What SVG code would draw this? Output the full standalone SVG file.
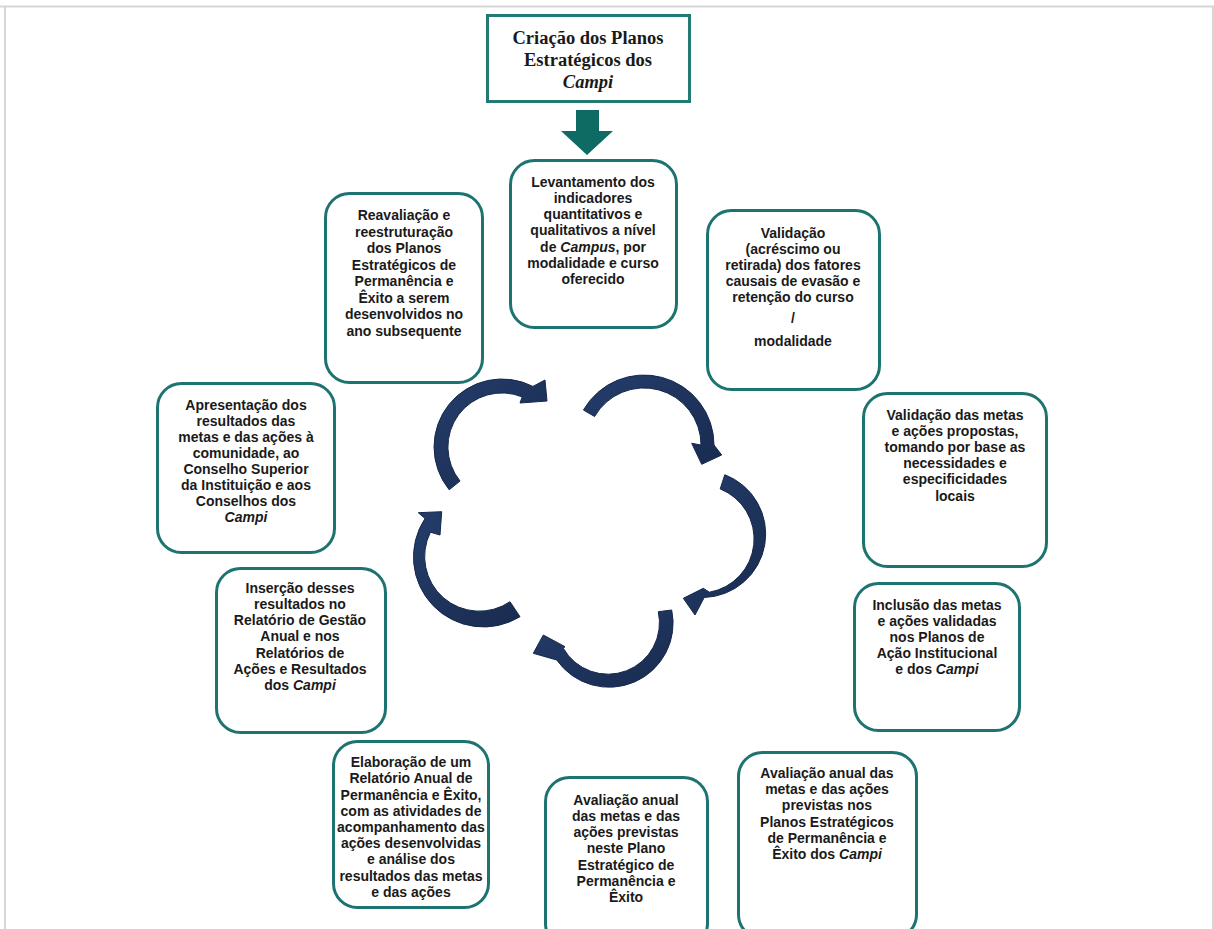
<svg xmlns="http://www.w3.org/2000/svg" width="1214" height="929" viewBox="0 0 1214 929">
<defs>
<style>
.box{fill:#fff;stroke:#1d7370;stroke-width:3}
.t{font-family:"Liberation Sans",Arial,sans-serif;font-weight:bold;font-size:14px;fill:#1a1a1a;text-anchor:middle}
.ts{font-family:"Liberation Serif","Times New Roman",serif;font-weight:bold;font-size:18.5px;fill:#1a1a1a;text-anchor:middle}
.i{font-style:italic}
.arr{fill:url(#ag);stroke:#16284a;stroke-width:1}
.frame{stroke:#d6d6d6;stroke-width:2;fill:none}
</style>
<linearGradient id="ag" x1="0" y1="0" x2="1" y2="1">
<stop offset="0" stop-color="#243d6b"/>
<stop offset="1" stop-color="#192b4f"/>
</linearGradient>
</defs>
<rect x="0" y="0" width="1214" height="929" fill="#fff"/>
<path class="frame" d="M0,6.5 H1213 V929 M5,6.5 V929"/>

<g id="start">
<rect x="487.5" y="15.5" width="202" height="86" fill="#fff" stroke="#237a73" stroke-width="3"/>
<text class="ts" x="588" y="44">Criação dos Planos</text>
<text class="ts" x="588" y="66">Estratégicos dos</text>
<text class="ts i" x="588" y="88">Campi</text>
</g>

<g id="connectors">
<polygon points="576,110 599,110 599,131 613,131 587,155 561,131 576,131" fill="#0e6b63"/>
<path class="arr" d="M449.2,489.8 A68,68 0 0 1 532.9,386.4 L545,380 L547,401 L520,403 L522.2,396.9 A54,54 0 0 0 460,481 Z"/>
<path class="arr" d="M583.4,410 A70,70 0 0 1 714,445 L721.7,455 L701.7,464.3 L691.7,443.3 L701,445 A57,57 0 0 0 594.6,416.5 Z"/>
<path class="arr" d="M724.8,474.7 A63.5,63.5 0 0 1 704.2,597.5 L695,615 L683.3,598.3 L703.3,588.3 L709.4,592.2 A54,54 0 0 0 720.2,488.9 Z"/>
<path class="arr" d="M671.7,610 A64,64 0 0 1 556.7,660 L533.3,653.3 L543.3,635 L565,646.7 L563.3,648.3 A51.5,51.5 0 0 0 658.3,611.7 Z"/>
<path class="arr" d="M520,616.7 A70,70 0 0 1 425,518.5 L418.3,512.7 L441.7,511.7 L440,535 L430.4,532.2 A54.6,54.6 0 0 0 510,601.7 Z"/>
</g>

<g id="levantamento">
<rect class="box" x="510.5" y="160.5" width="166" height="167" rx="24"/>
<text class="t" x="593" y="187">Levantamento dos</text>
<text class="t" x="593" y="203">indicadores</text>
<text class="t" x="593" y="219">quantitativos e</text>
<text class="t" x="593" y="235">qualitativos a nível</text>
<text class="t" x="593" y="252">de <tspan class="i">Campus</tspan>, por</text>
<text class="t" x="593" y="268">modalidade e curso</text>
<text class="t" x="593" y="284">oferecido</text>
</g>

<g id="validacao-fatores">
<rect class="box" x="707.5" y="210.5" width="172" height="179" rx="24"/>
<text class="t" x="793" y="238">Validação</text>
<text class="t" x="793" y="254">(acréscimo ou</text>
<text class="t" x="793" y="270">retirada) dos fatores</text>
<text class="t" x="793" y="286">causais de evasão e</text>
<text class="t" x="793" y="302">retenção do curso</text>
<text class="t" x="793" y="323">/</text>
<text class="t" x="793" y="346">modalidade</text>
</g>

<g id="validacao-metas">
<rect class="box" x="863.5" y="393.5" width="183" height="173" rx="24"/>
<text class="t" x="955" y="420">Validação das metas</text>
<text class="t" x="955" y="436">e ações propostas,</text>
<text class="t" x="955" y="452">tomando por base as</text>
<text class="t" x="955" y="468">necessidades e</text>
<text class="t" x="955" y="484">especificidades</text>
<text class="t" x="955" y="501">locais</text>
</g>

<g id="inclusao">
<rect class="box" x="854.5" y="583.5" width="165" height="147" rx="24"/>
<text class="t" x="937" y="610">Inclusão das metas</text>
<text class="t" x="937" y="626">e ações validadas</text>
<text class="t" x="937" y="642">nos Planos de</text>
<text class="t" x="937" y="658">Ação Institucional</text>
<text class="t" x="937" y="674">e dos <tspan class="i">Campi</tspan></text>
</g>

<g id="avaliacao-campi">
<rect class="box" x="738.5" y="752.5" width="178" height="186" rx="24"/>
<text class="t" x="827" y="778">Avaliação anual das</text>
<text class="t" x="827" y="794">metas e das ações</text>
<text class="t" x="827" y="810">previstas nos</text>
<text class="t" x="827" y="827">Planos Estratégicos</text>
<text class="t" x="827" y="843">de Permanência e</text>
<text class="t" x="827" y="859">Êxito dos <tspan class="i">Campi</tspan></text>
</g>

<g id="avaliacao-plano">
<rect class="box" x="545.5" y="777.5" width="162" height="170" rx="24"/>
<text class="t" x="626" y="805">Avaliação anual</text>
<text class="t" x="626" y="821">das metas e das</text>
<text class="t" x="626" y="837">ações previstas</text>
<text class="t" x="626" y="853">neste Plano</text>
<text class="t" x="626" y="870">Estratégico de</text>
<text class="t" x="626" y="886">Permanência e</text>
<text class="t" x="626" y="902">Êxito</text>
</g>

<g id="elaboracao">
<rect class="box" x="333.5" y="741.5" width="155" height="166" rx="24"/>
<text class="t" x="411" y="767">Elaboração de um</text>
<text class="t" x="411" y="783">Relatório Anual de</text>
<text class="t" x="411" y="800">Permanência e Êxito,</text>
<text class="t" x="411" y="816">com as atividades de</text>
<text class="t" x="411" y="832">acompanhamento das</text>
<text class="t" x="411" y="848">ações desenvolvidas</text>
<text class="t" x="411" y="864">e análise dos</text>
<text class="t" x="411" y="881">resultados das metas</text>
<text class="t" x="411" y="897">e das ações</text>
</g>

<g id="insercao">
<rect class="box" x="216.5" y="568.5" width="169" height="164" rx="24"/>
<text class="t" x="300" y="593">Inserção desses</text>
<text class="t" x="300" y="609">resultados no</text>
<text class="t" x="300" y="625">Relatório de Gestão</text>
<text class="t" x="300" y="641">Anual e nos</text>
<text class="t" x="300" y="658">Relatórios de</text>
<text class="t" x="300" y="674">Ações e Resultados</text>
<text class="t" x="300" y="690">dos <tspan class="i">Campi</tspan></text>
</g>

<g id="apresentacao">
<rect class="box" x="157.5" y="383.5" width="177" height="169" rx="24"/>
<text class="t" x="246" y="410">Apresentação dos</text>
<text class="t" x="246" y="426">resultados das</text>
<text class="t" x="246" y="442">metas e das ações à</text>
<text class="t" x="246" y="458">comunidade, ao</text>
<text class="t" x="246" y="474">Conselho Superior</text>
<text class="t" x="246" y="490">da Instituição e aos</text>
<text class="t" x="246" y="506">Conselhos dos</text>
<text class="t i" x="246" y="522">Campi</text>
</g>

<g id="reavaliacao">
<rect class="box" x="325.5" y="193.5" width="157" height="189" rx="24"/>
<text class="t" x="404" y="220">Reavaliação e</text>
<text class="t" x="404" y="237">reestruturação</text>
<text class="t" x="404" y="253">dos Planos</text>
<text class="t" x="404" y="270">Estratégicos de</text>
<text class="t" x="404" y="286">Permanência e</text>
<text class="t" x="404" y="303">Êxito a serem</text>
<text class="t" x="404" y="319">desenvolvidos no</text>
<text class="t" x="404" y="336">ano subsequente</text>
</g>
</svg>
